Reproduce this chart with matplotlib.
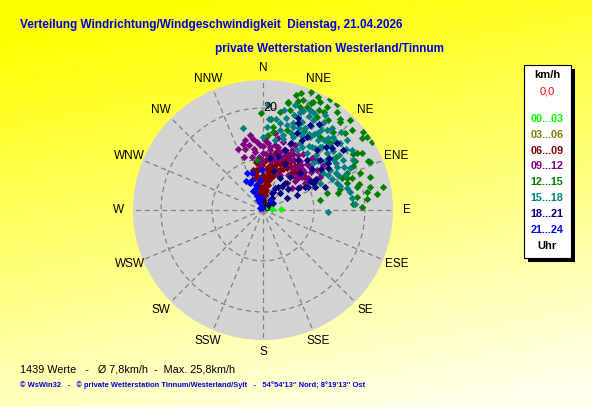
import numpy as np
import matplotlib
matplotlib.use('Agg')
import matplotlib.pyplot as plt
from matplotlib.patches import Rectangle

# wind direction (deg, clockwise from N) and speed (km/h), one pair of lists per 3h slot
dir_00_03 = [84, 87, 53]
spd_00_03 = [1.8, 3.5, 1.0]

dir_03_06 = [6, 10, 2]
spd_03_06 = [2.0, 3.0, 1.2]

dir_06_09 = [0, 0, 4, 3, 5, 6, 8, 10, 12, 15, 17, 21, 24, 29, 36, 43, 49, 349, 346, 346,
             352, 357, 3, 7, 13, 19, 26, 359, 11, 351, 338, 23, 30, 37, 48, 8, 9, 358, 11, 14,
             15, 23, 25, 354, 352, 0, 353, 5, 9,
             2, 1, 5, 2, 8, 4, 12, 7, 16, 13, 18, 20, 26, 33, 40, 45, 52, 38, 32, 16,
             10, 0, 354, 350, 348, 356, 355, 27, 22]
spd_06_09 = [1.0, 2.0, 2.9, 3.9, 4.9, 5.9, 6.7, 7.6, 8.4, 9.1, 9.9, 10.5, 11.2, 10.8, 10.7, 10.7, 10.4, 5.0, 6.5, 8.1,
             9.5, 10.2, 9.8, 10.9, 11.7, 12.5, 12.0, 8.8, 5.0, 3.6, 3.2, 8.5, 9.5, 9.4, 9.3, 3.0, 4.0, 5.9, 6.0, 7.1,
             8.1, 7.5, 9.7, 3.9, 5.5, 6.9, 7.9, 8.3, 8.9,
             1.5, 2.5, 3.5, 4.5, 5.5, 6.5, 6.5, 7.5, 7.0, 8.0, 8.5, 9.5, 9.0, 10.0, 9.8, 9.5, 10.5, 11.5, 11.5, 10.5,
             10.0, 9.5, 9.0, 8.0, 7.0, 6.5, 4.5, 11.0, 11.5]

dir_09_12 = [338, 355, 348, 352, 357, 4, 13, 16, 21, 28, 38, 45, 48, 53, 60, 55, 58, 53, 42, 26,
             8, 10, 0, 356, 2, 9, 16, 26, 32, 41, 43, 53, 52, 7, 359, 47, 57, 346, 350, 26,
             26, 60, 17,
             340, 344, 348, 352, 356, 0, 3, 6, 10, 13, 17, 20, 24, 28, 31, 34, 37, 40, 44, 47,
             50, 52, 56, 62, 58, 47, 36, 22, 12, 3, 352, 343, 48, 42, 35]
spd_09_12 = [12.9, 13.4, 10.6, 11.5, 12.8, 13.2, 12.7, 11.9, 11.1, 11.1, 10.7, 11.1, 12.5, 13.2, 12.9, 10.8, 8.5, 7.1, 7.1, 7.6,
             9.9, 11.0, 11.2, 8.8, 13.7, 15.3, 13.9, 13.1, 12.8, 13.1, 14.0, 14.7, 15.9, 11.8, 9.8, 9.4, 9.8, 14.2, 14.9, 14.2,
             9.8, 11.8, 8.2,
             11.0, 12.5, 13.0, 12.0, 10.5, 12.5, 11.0, 12.5, 13.0, 10.0, 10.5, 12.5, 12.0, 12.5, 11.5, 10.0, 12.0, 11.5, 12.5, 11.0,
             10.0, 12.0, 11.0, 11.5, 13.5, 14.5, 13.5, 14.0, 14.5, 14.5, 14.0, 13.5, 8.5, 9.0, 8.5]

dir_12_15 = [359, 13, 15, 18, 23, 25, 26, 25, 31, 37, 41, 32, 47, 54, 58, 55, 59, 66, 64, 69,
             79, 78, 76, 72, 70, 80, 75, 75, 69, 54, 42, 45, 38, 7, 4, 17, 27, 80, 86, 82,
             13, 32, 36, 40, 58, 65, 77, 68, 7, 353,
             10, 20, 22, 28, 35, 44, 48, 52, 60, 62, 73, 82, 84, 88, 75, 66, 30, 18, 5, 42,
             16, 20, 24, 29]
spd_12_15 = [19.0, 21.5, 20.3, 24.2, 22.0, 21.7, 24.6, 23.3, 25.4, 24.1, 22.9, 23.8, 22.1, 24.0, 25.2, 24.8, 21.6, 23.0, 19.6, 20.4,
             24.0, 21.4, 19.0, 17.3, 18.6, 11.3, 13.0, 15.6, 17.7, 17.8, 18.6, 18.6, 18.2, 16.4, 14.7, 16.4, 17.5, 20.7, 17.7, 18.6,
             21.7, 22.7, 21.8, 23.4, 20.8, 22.7, 15.1, 16.7, 15.4, 9.8,
             19.5, 23.0, 25.0, 24.0, 25.3, 24.5, 23.5, 25.0, 22.5, 20.5, 22.0, 22.5, 20.5, 19.5, 19.5, 18.0, 21.0, 22.5, 18.0, 20.5,
             23.5, 21.5, 23.0, 22.5]

dir_15_18 = [21, 4, 11, 16, 20, 24, 29, 34, 39, 44, 49, 54, 58, 60, 59, 58, 47, 38, 29, 22,
             15, 10, 3, 0, 42, 48, 54, 33, 35, 41, 27, 30, 38, 64, 61, 65, 92, 86, 82, 346,
             78, 73, 66, 65, 17, 25, 33, 12, 3, 46, 67,
             14, 18, 22, 26, 30, 34, 38, 42, 46, 50, 54, 57, 52, 48, 44, 40, 36, 32, 28, 24,
             20, 16, 12, 8, 45, 40, 35, 28, 50, 56, 62, 63, 55, 62, 70, 75,
             19, 23, 27, 31, 36, 43]
spd_15_18 = [20.5, 17.9, 17.4, 17.3, 17.3, 19.0, 20.2, 20.1, 20.1, 19.8, 20.0, 20.2, 18.5, 16.8, 15.3, 13.8, 13.5, 14.1, 15.0, 15.5,
             15.2, 13.9, 16.3, 14.3, 16.7, 16.8, 16.9, 17.0, 18.4, 18.1, 17.0, 13.5, 15.7, 19.0, 20.2, 16.2, 12.8, 18.1, 17.6, 16.5,
             17.4, 15.8, 14.8, 12.4, 21.5, 21.7, 22.3, 20.1, 20.6, 18.3, 17.5,
             18.5, 19.5, 21.0, 20.5, 19.0, 18.0, 17.5, 19.0, 19.5, 18.0, 18.5, 17.0, 15.5, 14.5, 15.0, 16.0, 15.5, 14.5, 16.5, 17.5,
             16.0, 14.5, 16.0, 18.0, 21.5, 21.0, 21.0, 21.5, 21.5, 21.0, 18.0, 16.0, 14.0, 14.5, 15.5, 17.0,
             18.0, 18.5, 18.0, 17.5, 19.5, 17.0]

dir_18_21 = [21, 63, 66, 63, 62, 53, 354, 45, 33, 28, 39, 45, 41, 42, 29, 23, 20, 31, 22, 29,
             49, 48, 48, 57, 29, 37, 61, 58, 66, 54, 8, 29, 45, 39, 55, 28,
             15, 25, 35, 50, 55, 60, 70, 24, 33, 45, 52, 38, 50, 15, 58]
spd_18_21 = [19.3, 5.3, 7.3, 9.9, 11.1, 19.6, 2.0, 1.4, 5.4, 7.1, 8.4, 10.3, 13.1, 15.8, 15.7, 14.3, 12.5, 16.7, 18.4, 19.0,
             14.9, 18.2, 19.6, 15.3, 4.0, 2.9, 9.4, 10.8, 11.2, 15.8, 10.3, 4.9, 4.7, 6.8, 2.4, 3.8,
             11.0, 10.0, 12.0, 12.5, 14.0, 12.0, 13.0, 16.5, 20.0, 17.5, 16.5, 6.0, 6.5, 8.0, 8.0]

dir_21_24 = [337, 334, 335, 333, 333, 359, 343, 354, 332, 304, 342, 340, 35, 330, 338, 345, 340, 350]
spd_21_24 = [7.9, 5.9, 4.1, 2.2, 0.4, 7.8, 7.6, 5.9, 4.2, 0.7, 4.5, 6.3, 2.4, 6.5, 3.0, 5.0, 1.5, 2.5]

slot_labels = ['00...03', '03...06', '06...09', '09...12', '12...15', '15...18', '18...21', '21...24']
slot_colors = ['#00ff00', '#808000', '#800000', '#800080', '#008000', '#008080', '#000080', '#0000ff']
slot_dirs = [dir_00_03, dir_03_06, dir_06_09, dir_09_12, dir_12_15, dir_15_18, dir_18_21, dir_21_24]
slot_spds = [spd_00_03, spd_03_06, spd_06_09, spd_09_12, spd_12_15, spd_15_18, spd_18_21, spd_21_24]

compass = ['N', 'NNE', 'NE', 'ENE', 'E', 'ESE', 'SE', 'SSE',
           'S', 'SSW', 'SW', 'WSW', 'W', 'WNW', 'NW', 'NNW']

title1 = 'Verteilung Windrichtung/Windgeschwindigkeit  Dienstag, 21.04.2026'
title2 = 'private Wetterstation Westerland/Tinnum'
stats = '1439 Werte   -   \u00d8 7,8km/h  -  Max. 25,8km/h'
footer = '\u00a9 WsWin32   -   \u00a9 private Wetterstation Tinnum/Westerland/Sylt   -   54\u00b054\'13\'\' Nord; 8\u00b019\'13\'\' Ost'

W, H = 592, 407
plt.rcParams['font.family'] = ['Liberation Sans', 'DejaVu Sans']

fig = plt.figure(figsize=(W / 100, H / 100), dpi=100)

# yellow -> pale background
yy, xx = np.mgrid[0:H, 0:W]
t = np.clip(yy / H * 0.9 + xx / W * 0.25 - 0.08, 0, 1)
bg = np.zeros((H, W, 3))
bg[..., 0] = 1.0
bg[..., 1] = 1.0
bg[..., 2] = t * 0.92
bgax = fig.add_axes([0, 0, 1, 1])
bgax.imshow(bg, aspect='auto', extent=[0, 1, 0, 1], origin='upper')
bgax.axis('off')


def px(x, y):
    return x / W, 1 - y / H


# polar plot: centre (263,210) px, radius 130 px
cx, cy, R = 263, 210, 130
ax = fig.add_axes([(cx - R) / W, 1 - (cy + R) / H, 2 * R / W, 2 * R / H], projection='polar')
ax.set_theta_zero_location('N')
ax.set_theta_direction(-1)
ax.set_facecolor('#d3d3d3')
ax.set_ylim(0, 25.5)
ax.set_xticks(np.radians(np.arange(0, 360, 22.5)))
ax.set_xticklabels([])
ax.set_yticks([10, 20])
ax.set_yticklabels([])
ax.grid(color='#808080', linestyle=(0, (4, 3)), linewidth=0.9)
ax.spines['polar'].set_visible(False)

for d, s, c in zip(slot_dirs, slot_spds, slot_colors):
    ax.scatter(np.radians(d), s, marker='D', s=14, color=c, linewidths=0, zorder=3)

ax.text(0, 20, '20', ha='left', va='center', fontsize=9, zorder=4)
ax.text(0, 0.3, '0', ha='left', va='center', fontsize=9, zorder=4)

# compass labels just outside the disc (slightly wider than tall)
for i, lab in enumerate(compass):
    a = np.radians(i * 22.5)
    ax.text(0.5 + 0.5 * 1.11 * np.sin(a), 0.5 + 0.5 * 1.09 * np.cos(a), lab,
            transform=ax.transAxes, ha='center', va='center', fontsize=8.5, clip_on=False)

# titles
fig.text(*px(20, 25), title1, color='#0000e0', fontsize=8.5, fontweight='bold', ha='left', va='center')
fig.text(*px(215, 49), title2, color='#0000e0', fontsize=8.5, fontweight='bold', ha='left', va='center')

# legend box with shadow
fig.patches.append(Rectangle(px(528, 262), 47 / W, 193 / H, transform=fig.transFigure,
                             facecolor='black', edgecolor='none', zorder=1))
fig.patches.append(Rectangle(px(524, 258), 47 / W, 193 / H, transform=fig.transFigure,
                             facecolor='white', edgecolor='black', linewidth=0.8, zorder=2))
lx = 547
fig.text(*px(lx, 75), 'km/h', fontsize=8, fontweight='bold', ha='center', va='center', zorder=3)
fig.text(*px(lx, 92), '0,0', fontsize=8, color='red', ha='center', va='center', zorder=3)
for i, (lab, c) in enumerate(zip(slot_labels, slot_colors)):
    fig.text(*px(lx, 119 + i * 15.8), lab, fontsize=7.8, fontweight='bold', color=c,
             ha='center', va='center', zorder=3)
fig.text(*px(lx, 246), 'Uhr', fontsize=8, fontweight='bold', ha='center', va='center', zorder=3)

# bottom lines
fig.text(*px(20, 369), stats, fontsize=7.8, ha='left', va='center')
fig.text(*px(20, 385.5), footer, fontsize=5.4, fontweight='bold', color='#0000e0', ha='left', va='center')

fig.savefig('out.png', dpi=100)
